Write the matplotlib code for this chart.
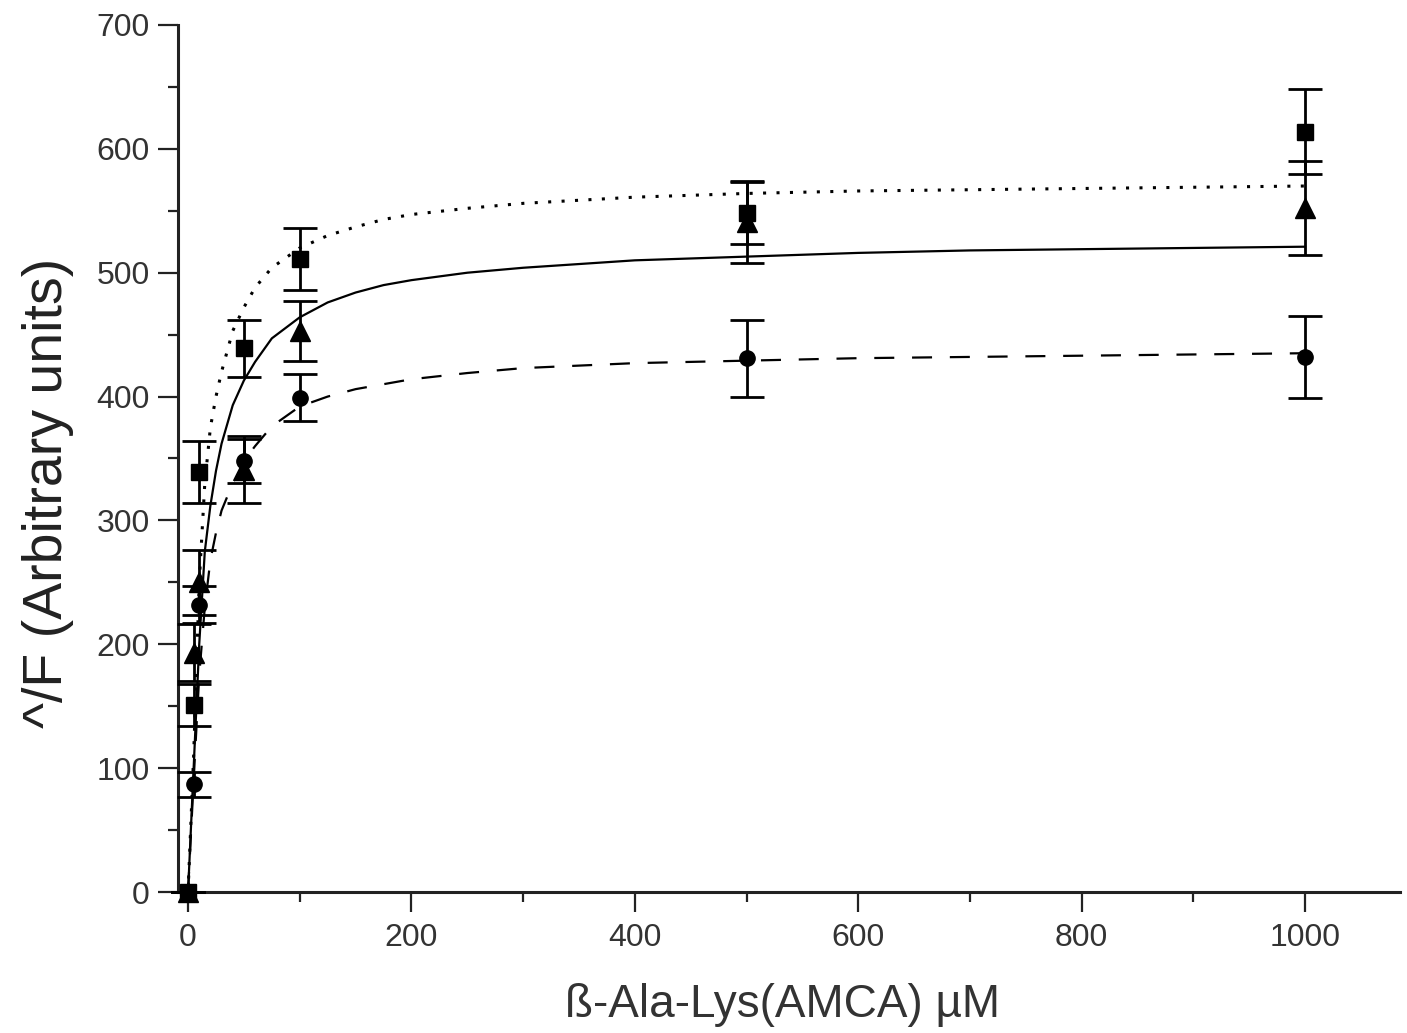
import matplotlib
matplotlib.use("Agg")
import matplotlib.pyplot as plt
from matplotlib.ticker import MultipleLocator

plt.rcParams['font.family'] = ['Liberation Sans', 'DejaVu Sans']

# Measured data points
conc = [0, 5, 10, 50, 100, 500, 1000]
sq_vals = [0, 151, 339, 439, 511, 548, 614]
sq_err = [0, 17, 25, 23, 25, 25, 34]
tri_vals = [0, 193, 250, 341, 453, 541, 552]
tri_err = [0, 23, 26, 27, 24, 33, 38]
cir_vals = [0, 87, 232, 348, 399, 431, 432]
cir_err = [0, 10, 15, 18, 19, 31, 33]

# Fitted curves
fit_x = [0, 5, 10, 15, 20, 25, 30, 40, 50, 60, 75, 100, 125, 150, 175, 200, 250, 300,
         400, 500, 600, 700, 800, 900, 1000]
fit_sq = [0, 110, 250, 330, 375, 400, 420, 453, 472, 488, 504, 520, 530, 537, 543, 547,
          552, 556, 561, 564, 566, 567, 568, 569, 570]
fit_tri = [0, 100, 200, 275, 312, 340, 362, 393, 413, 428, 447, 464, 476, 484, 490, 494,
           500, 504, 510, 513, 516, 518, 519, 520, 521]
fit_cir = [0, 90, 175, 230, 268, 290, 308, 330, 348, 360, 376, 392, 400, 406, 410, 414,
           419, 423, 427, 429, 431, 432, 433, 434, 435]

xticks = [0, 200, 400, 600, 800, 1000]
yticks = [0, 100, 200, 300, 400, 500, 600, 700]

W, H = 1407, 1033
fig = plt.figure(figsize=(W / 100, H / 100), dpi=100)
ax = fig.add_axes([178 / W, 1 - 892 / H, (1400 - 178) / W, (892 - 25) / H])

# curves
ax.plot(fit_x, fit_sq, color='black', lw=2.2, linestyle=(0, (1, 3.4)), zorder=2)
ax.plot(fit_x, fit_tri, color='black', lw=1.6, linestyle='-', zorder=2)
ax.plot(fit_x, fit_cir, color='black', lw=1.6, linestyle=(0, (9, 8)), zorder=2)

ekw = dict(color='black', ecolor='black', elinewidth=2.0, capsize=12, capthick=2.0,
           linestyle='none', clip_on=False)
for z, (vals, err, mk, ms) in enumerate([(cir_vals, cir_err, 'o', 11),
                                          (tri_vals, tri_err, '^', 14),
                                          (sq_vals, sq_err, 's', 11)]):
    eb = ax.errorbar(conc, vals, yerr=err, marker=mk, markersize=ms, zorder=3 + z, **ekw)
    eb.lines[0].set_clip_on(False)
    for c in eb.lines[1]:
        c.set_clip_on(False)
    for c in eb.lines[2]:
        c.set_clip_on(False)

ax.set_xlim(-9, 1085)
ax.set_ylim(0, 700)
ax.set_xticks(xticks)
ax.set_yticks(yticks)
ax.xaxis.set_minor_locator(MultipleLocator(100))
ax.yaxis.set_minor_locator(MultipleLocator(50))

for s in ['top', 'right']:
    ax.spines[s].set_visible(False)
for s in ['left', 'bottom']:
    ax.spines[s].set_linewidth(2.2)
    ax.spines[s].set_color('#222222')

ax.tick_params(which='major', direction='out', length=14.4, width=1.6, color='#222222',
               labelsize=23, labelcolor='#333333')
ax.tick_params(which='minor', direction='out', length=7.2, width=1.6, color='#222222')
ax.tick_params(axis='x', which='major', pad=8)
ax.tick_params(axis='y', which='major', pad=6)

ax.set_xlabel('ß-Ala-Lys(AMCA) µM', fontsize=33, color='#333333')
ax.xaxis.set_label_coords(0.495, -0.105)
ax.set_ylabel('^/F (Arbitrary units)', fontsize=40, color='#222222')
ax.yaxis.set_label_coords(-0.085, 0.46)

fig.savefig('out.png', dpi=100)
